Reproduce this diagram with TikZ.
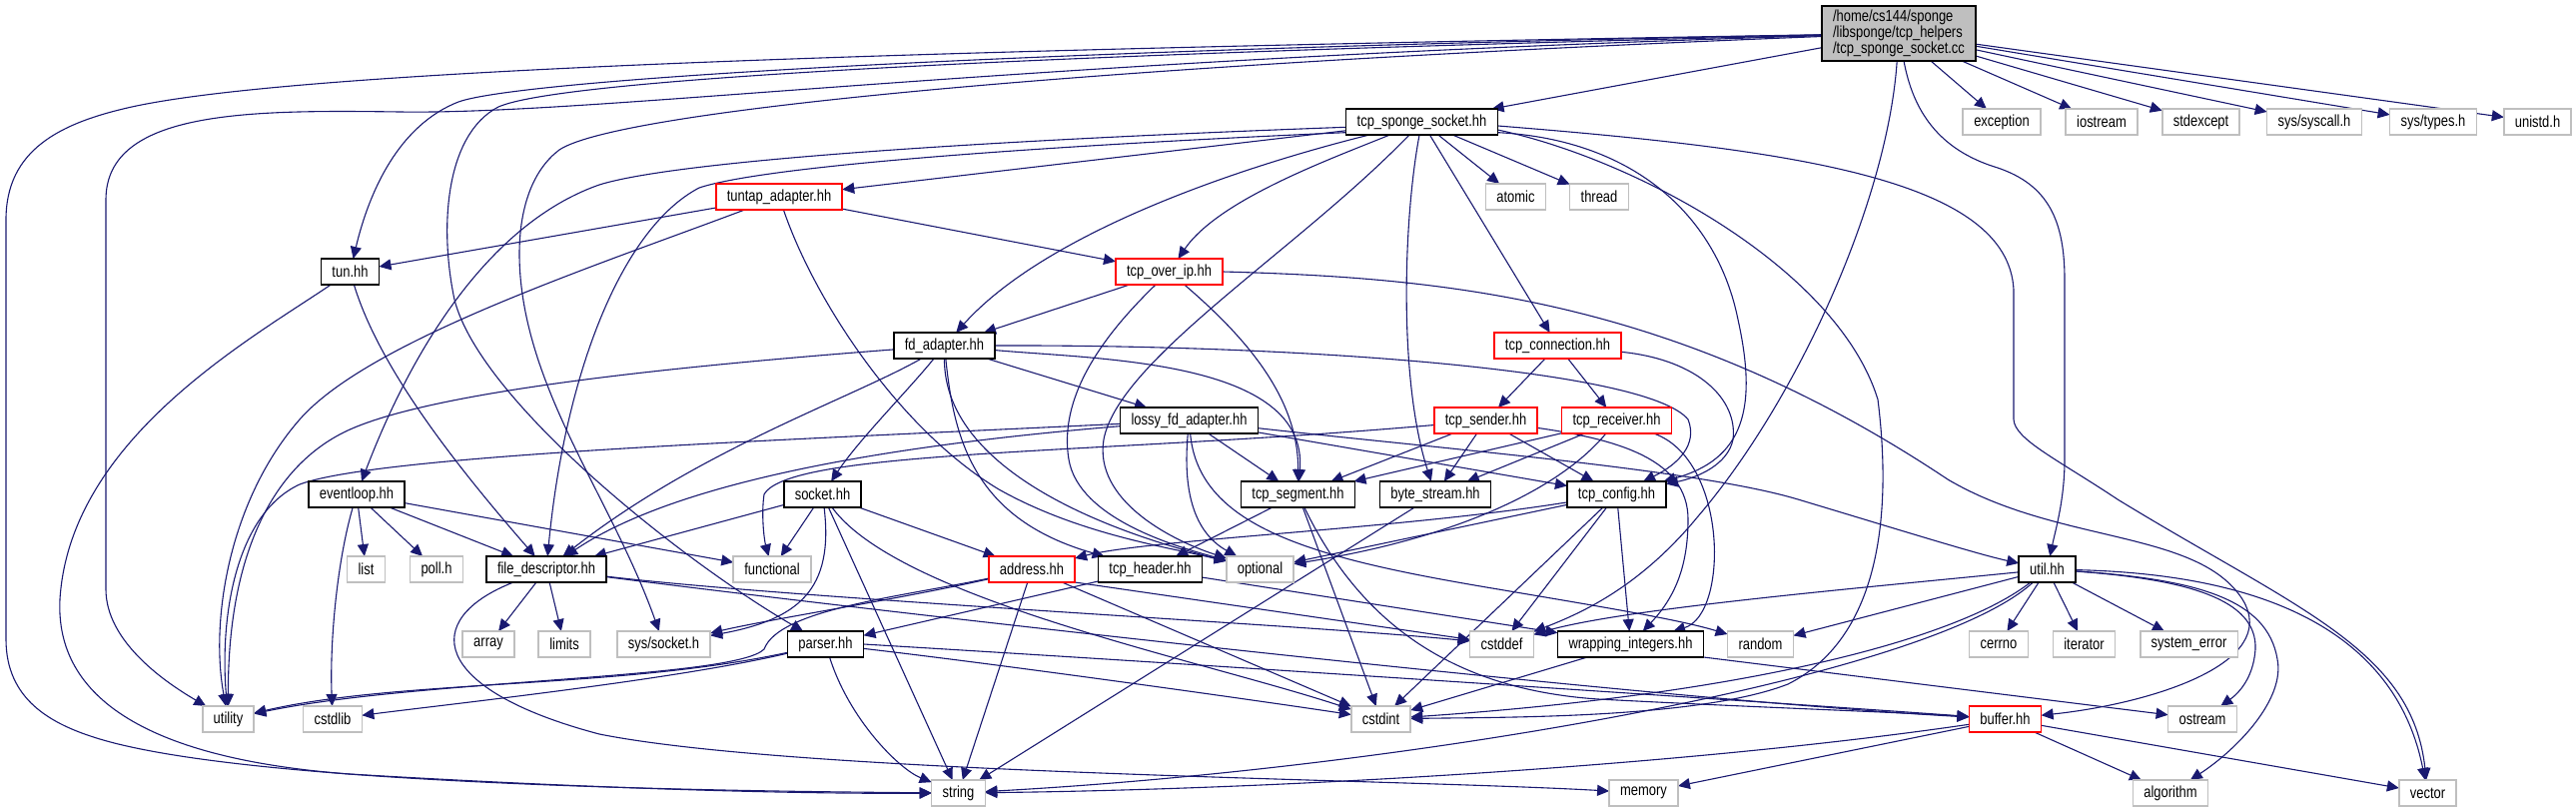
\documentclass[tikz,border=0pt]{standalone}
\usepackage{fontspec}
\newfontfamily\dotfont{Liberation Sans}[FakeStretch=0.81]
\usetikzlibrary{arrows.meta, backgrounds}

\definecolor{edgeblue}{HTML}{191970}
\definecolor{sysgrey}{HTML}{BFBFBF}

\begin{document}
\begin{tikzpicture}[
        x=1pt, y=-1pt,
        box/.style={rectangle, minimum height=26pt, inner xsep=11pt, inner ysep=0pt,
                    outer sep=0pt, line width=1.6pt, fill=white,
                    font=\dotfont\fontsize{16}{18}\selectfont},
        docnode/.style={box, draw=black},
        rednode/.style={box, draw=red},
        sysnode/.style={box, draw=sysgrey},
        rootnode/.style={box, draw=black, fill=sysgrey, align=left, minimum height=55pt,
                         font=\dotfont\fontsize{16}{14.2}\selectfont},
        dep/.style={->, draw=edgeblue, line width=1.1pt},
        >={Triangle[length=12pt, width=11pt]}
    ]
    \useasboundingbox (0,0) rectangle (2579,813);

    \node[rootnode] (root) at (1901,33.5)
        {/home/cs144/sponge\\/libsponge/tcp\_helpers\\/tcp\_sponge\_socket.cc};

    \node[docnode] (tss)        at (1423.5,122) {tcp\_sponge\_socket.hh};
    \node[sysnode] (exception)  at (2004,122)   {exception};
    \node[sysnode] (iostream)   at (2104,122)   {iostream};
    \node[sysnode] (stdexcept)  at (2203.5,122) {stdexcept};
    \node[sysnode] (syscall)    at (2317,122)   {sys/syscall.h};
    \node[sysnode] (systypes)   at (2436,122)   {sys/types.h};
    \node[sysnode] (unistd)     at (2540.5,122) {unistd.h};

    \node[rednode] (tuntap)     at (780,197)    {tuntap\_adapter.hh};
    \node[sysnode] (atomic)     at (1517.5,197) {atomic};
    \node[sysnode] (thread)     at (1601,197)   {thread};

    \node[docnode] (tun)        at (350.5,272)  {tun.hh};
    \node[rednode] (overip)     at (1170.5,272) {tcp\_over\_ip.hh};

    \node[docnode] (fdadapter)  at (945.5,346)  {fd\_adapter.hh};
    \node[rednode] (connection) at (1559.5,346) {tcp\_connection.hh};

    \node[docnode] (lossy)      at (1190.5,421) {lossy\_fd\_adapter.hh};
    \node[rednode] (sender)     at (1487.5,421) {tcp\_sender.hh};
    \node[rednode] (receiver)   at (1618.5,421) {tcp\_receiver.hh};

    \node[docnode] (eventloop)  at (357,495)    {eventloop.hh};
    \node[docnode] (socket)     at (823.5,495)  {socket.hh};
    \node[docnode] (segment)    at (1299.5,495) {tcp\_segment.hh};
    \node[docnode] (bytestream) at (1437,495)   {byte\_stream.hh};
    \node[docnode] (config)     at (1618.5,495) {tcp\_config.hh};

    \node[sysnode] (list)       at (366.5,570)  {list};
    \node[sysnode] (poll)       at (437,570)    {poll.h};
    \node[docnode] (fdesc)      at (547,570)    {file\_descriptor.hh};
    \node[sysnode] (functional) at (773,570)    {functional};
    \node[rednode] (address)    at (1033,570)   {address.hh};
    \node[docnode] (header)     at (1151.5,570) {tcp\_header.hh};
    \node[sysnode] (optional)   at (1261.5,570) {optional};
    \node[docnode] (util)       at (2049.5,570) {util.hh};

    \node[sysnode] (array)      at (489,645)    {array};
    \node[sysnode] (limits)     at (565,645)    {limits};
    \node[sysnode] (syssocket)  at (664.5,645)  {sys/socket.h};
    \node[docnode] (parser)     at (826.5,645)  {parser.hh};
    \node[sysnode] (cstddef)    at (1503.5,645) {cstddef};
    \node[docnode] (wrapping)   at (1632.5,645) {wrapping\_integers.hh};
    \node[sysnode] (random)     at (1762.5,645) {random};
    \node[sysnode] (cerrno)     at (2001,645)   {cerrno};
    \node[sysnode] (iterator)   at (2086.5,645) {iterator};
    \node[sysnode] (syserror)   at (2191.5,645) {system\_error};

    \node[sysnode] (utility)    at (228.5,720)  {utility};
    \node[sysnode] (cstdlib)    at (333,720)    {cstdlib};
    \node[sysnode] (cstdint)    at (1382.5,720) {cstdint};
    \node[rednode] (buffer)     at (2007.5,720) {buffer.hh};
    \node[sysnode] (ostream)    at (2205,720)   {ostream};

    \node[sysnode] (string)     at (959.5,794)  {string};
    \node[sysnode] (memory)     at (1645.5,794) {memory};
    \node[sysnode] (algorithm)  at (2173,794)   {algorithm};
    \node[sysnode] (vector)     at (2430.5,794) {vector};

    \begin{scope}[on background layer]
    % tcp_sponge_socket.cc
    \draw[dep] (root) -- (tss);
    \draw[dep] (root) -- (exception);
    \draw[dep] (root) -- (iostream);
    \draw[dep] (root) -- (stdexcept);
    \draw[dep] (root) -- (syscall);
    \draw[dep] (root) -- (systypes);
    \draw[dep] (root) -- (unistd);
    \draw[dep] (root) .. controls (1915,110) and (1940,150) .. (2000,168)
        .. controls (2050,185) and (2067,220) .. (2067,280) -- (2067,460)
        .. controls (2067,500) and (2058,530) .. (util);
    \draw[dep] (root) .. controls (1890,200) and (1800,400) .. (1700,517)
        .. controls (1640,590) and (1580,615) .. (cstddef);
    \draw[dep] (root) .. controls (1000,50) and (520,80) .. (459,102)
        .. controls (400,125) and (370,190) .. (tun);
    \draw[dep] (root) .. controls (1000,55) and (560,80) .. (499,107)
        .. controls (445,135) and (440,230) .. (455,300)
        .. controls (480,400) and (680,560) .. (parser);
    \draw[dep] (root) .. controls (1100,65) and (620,110) .. (560,150)
        .. controls (520,180) and (510,250) .. (530,330)
        .. controls (555,430) and (620,520) .. (syssocket);
    \draw[dep] (root) .. controls (900,50) and (300,70) .. (132,107)
        .. controls (60,123) and (6,150) .. (6,220) -- (6,640)
        .. controls (6,700) and (50,725) .. (100,740)
        .. controls (250,785) and (700,792) .. (string);
    \draw[dep] (root) .. controls (1000,60) and (600,115) .. (400,112)
        .. controls (250,110) and (106,110) .. (106,200) -- (106,590)
        .. controls (106,640) and (160,680) .. (utility);

    % tcp_sponge_socket.hh
    \draw[dep] (tss) -- (tuntap);
    \draw[dep] (tss) .. controls (1330,160) and (1220,200) .. (overip);
    \draw[dep] (tss) .. controls (1250,165) and (1050,230) .. (fdadapter);
    \draw[dep] (tss) .. controls (1300,250) and (1120,360) .. (1105,440)
        .. controls (1095,500) and (1170,540) .. (optional);
    \draw[dep] (tss) .. controls (1405,220) and (1400,380) .. (bytestream);
    \draw[dep] (tss) -- (connection);
    \draw[dep] (tss) -- (atomic);
    \draw[dep] (tss) -- (thread);
    \draw[dep] (tss.-3) .. controls (1800,150) and (2010,180) .. (2016,290) -- (2016,420)
        .. controls (2017,440) and (2060,460) .. (2120,500)
        .. controls (2300,610) and (2415,650) .. (vector);
    \draw[dep] (tss.-6) .. controls (1640,160) and (1840,270) .. (1880,400)
        .. controls (1895,520) and (1880,640) .. (1790,685)
        .. controls (1700,720) and (1500,718) .. (cstdint);
    \draw[dep] (tss.-8) .. controls (1640,140) and (1720,220) .. (1740,320)
        .. controls (1760,410) and (1745,460) .. (config);
    \draw[dep] (tss.184) .. controls (1000,140) and (680,160) .. (600,185)
        .. controls (500,220) and (420,330) .. (eventloop);
    \draw[dep] (tss.188) .. controls (1000,148) and (760,168) .. (700,188)
        .. controls (620,230) and (565,380) .. (fdesc);

    % tuntap_adapter.hh, tun.hh, tcp_over_ip.hh
    \draw[dep] (tuntap) -- (tun);
    \draw[dep] (tuntap) -- (overip);
    \draw[dep] (tuntap) .. controls (600,265) and (370,340) .. (300,420)
        .. controls (230,500) and (210,620) .. (utility);
    \draw[dep] (tuntap) .. controls (815,300) and (900,430) .. (1000,490)
        .. controls (1080,535) and (1170,548) .. (optional);
    \draw[dep] (tun) .. controls (380,370) and (460,470) .. (fdesc);
    \draw[dep] (tun) .. controls (250,340) and (70,440) .. (60,600)
        .. controls (55,700) and (150,760) .. (350,775)
        .. controls (600,790) and (800,795) .. (string);
    \draw[dep] (overip) -- (fdadapter);
    \draw[dep] (overip) .. controls (1100,340) and (1060,400) .. (1070,460)
        .. controls (1080,520) and (1180,548) .. (optional);
    \draw[dep] (overip) .. controls (1250,340) and (1300,400) .. (segment);
    \draw[dep] (overip.east) .. controls (1450,278) and (1680,300) .. (1950,480)
        .. controls (2060,545) and (2200,530) .. (2245,600)
        .. controls (2285,665) and (2150,705) .. (buffer);

    % fd_adapter.hh, lossy_fd_adapter.hh
    \draw[dep] (fdadapter) .. controls (700,365) and (430,390) .. (344,433)
        .. controls (270,470) and (228,560) .. (utility);
    \draw[dep] (fdadapter) .. controls (850,400) and (700,450) .. (fdesc);
    \draw[dep] (fdadapter) .. controls (910,390) and (860,440) .. (socket);
    \draw[dep] (fdadapter) .. controls (955,440) and (975,520) .. (header);
    \draw[dep] (fdadapter) .. controls (945,460) and (1080,525) .. (optional);
    \draw[dep] (fdadapter) -- (lossy);
    \draw[dep] (fdadapter.east) .. controls (1300,345) and (1650,370) .. (1690,420)
        .. controls (1700,445) and (1680,465) .. (config);
    \draw[dep] (fdadapter) .. controls (1100,360) and (1310,360) .. (segment);
    \draw[dep] (lossy) .. controls (800,440) and (380,455) .. (300,485)
        .. controls (235,515) and (220,620) .. (utility);
    \draw[dep] (lossy) .. controls (900,445) and (680,480) .. (fdesc);
    \draw[dep] (lossy) .. controls (1185,480) and (1190,530) .. (optional);
    \draw[dep] (lossy) .. controls (1200,530) and (1320,560) .. (1500,590)
        .. controls (1600,607) and (1680,620) .. (random);
    \draw[dep] (lossy) -- (segment);
    \draw[dep] (lossy) -- (config);
    \draw[dep] (lossy) .. controls (1450,450) and (1700,470) .. (1800,500)
        .. controls (1900,530) and (1980,555) .. (util);

    % tcp_connection.hh, tcp_sender.hh, tcp_receiver.hh
    \draw[dep] (connection) -- (sender);
    \draw[dep] (connection) -- (receiver);
    \draw[dep] (connection) .. controls (1700,360) and (1740,400) .. (1735,440)
        .. controls (1730,465) and (1700,478) .. (config);
    \draw[dep] (sender) .. controls (1100,455) and (790,450) .. (765,495)
        .. controls (762,515) and (765,540) .. (functional);
    \draw[dep] (sender) -- (segment);
    \draw[dep] (sender) -- (bytestream);
    \draw[dep] (sender) -- (config);
    \draw[dep] (sender) .. controls (1620,440) and (1690,460) .. (1690,520)
        .. controls (1690,570) and (1675,600) .. (wrapping);
    \draw[dep] (receiver) -- (segment);
    \draw[dep] (receiver) -- (bytestream);
    \draw[dep] (receiver) .. controls (1570,480) and (1480,535) .. (optional);
    \draw[dep] (receiver) .. controls (1730,460) and (1731,615) .. (wrapping);

    % tcp_segment.hh, byte_stream.hh, tcp_config.hh
    \draw[dep] (segment) -- (header);
    \draw[dep] (segment) -- (cstdint);
    \draw[dep] (segment) .. controls (1360,620) and (1450,690) .. (1600,700)
        .. controls (1750,708) and (1900,713) .. (buffer);
    \draw[dep] (bytestream) -- (string);
    \draw[dep] (config) .. controls (1400,530) and (1150,540) .. (address);
    \draw[dep] (config) -- (optional);
    \draw[dep] (config) -- (cstdint);
    \draw[dep] (config) -- (cstddef);
    \draw[dep] (config) -- (wrapping);

    % eventloop.hh, socket.hh, file_descriptor.hh
    \draw[dep] (eventloop) .. controls (338,560) and (330,640) .. (cstdlib);
    \draw[dep] (eventloop) -- (list);
    \draw[dep] (eventloop) -- (poll);
    \draw[dep] (eventloop) -- (fdesc);
    \draw[dep] (eventloop) -- (functional);
    \draw[dep] (socket) -- (fdesc);
    \draw[dep] (socket) -- (functional);
    \draw[dep] (socket) .. controls (835,590) and (800,620) .. (syssocket);
    \draw[dep] (socket) -- (string);
    \draw[dep] (socket) .. controls (900,600) and (1200,660) .. (cstdint);
    \draw[dep] (socket) -- (address);
    \draw[dep] (fdesc) -- (array);
    \draw[dep] (fdesc) -- (limits);
    \draw[dep] (fdesc) .. controls (420,620) and (430,690) .. (600,735)
        .. controls (800,775) and (1400,780) .. (memory);
    \draw[dep] (fdesc) .. controls (800,600) and (1300,625) .. (cstddef);
    \draw[dep] (fdesc) .. controls (900,615) and (1650,700) .. (buffer);

    % address.hh, tcp_header.hh, parser.hh, wrapping_integers.hh
    \draw[dep] (address) .. controls (900,600) and (770,620) .. (syssocket);
    \draw[dep] (address) .. controls (900,598) and (780,610) .. (765,650)
        .. controls (735,680) and (420,680) .. (utility);
    \draw[dep] (address) -- (string);
    \draw[dep] (address) -- (cstdint);
    \draw[dep] (address.south east) -- (cstddef);
    \draw[dep] (header) -- (parser);
    \draw[dep] (header) -- (wrapping);
    \draw[dep] (parser) .. controls (620,690) and (400,680) .. (utility);
    \draw[dep] (parser) .. controls (680,680) and (450,705) .. (cstdlib);
    \draw[dep] (parser) .. controls (850,720) and (900,770) .. (string);
    \draw[dep] (parser.east) .. controls (1200,665) and (1800,705) .. (buffer);
    \draw[dep] (parser) .. controls (1000,665) and (1250,700) .. (cstdint);
    \draw[dep] (wrapping) -- (cstdint);
    \draw[dep] (wrapping.south east) -- (ostream);

    % util.hh, buffer.hh
    \draw[dep] (util) .. controls (1850,590) and (1620,610) .. (cstddef);
    \draw[dep] (util) -- (random);
    \draw[dep] (util) .. controls (1960,640) and (1750,695) .. (cstdint);
    \draw[dep] (util) .. controls (1930,680) and (1400,770) .. (string);
    \draw[dep] (util) -- (cerrno);
    \draw[dep] (util) -- (iterator);
    \draw[dep] (util) -- (syserror);
    \draw[dep] (util) .. controls (2190,580) and (2260,600) .. (2258,650)
        .. controls (2256,680) and (2240,695) .. (ostream);
    \draw[dep] (util) .. controls (2200,580) and (2270,600) .. (2280,660)
        .. controls (2288,700) and (2240,750) .. (algorithm);
    \draw[dep] (util) .. controls (2280,575) and (2400,640) .. (vector);
    \draw[dep] (buffer) .. controls (1700,765) and (1300,790) .. (string);
    \draw[dep] (buffer) -- (memory);
    \draw[dep] (buffer) -- (algorithm);
    \draw[dep] (buffer) -- (vector);
    \end{scope}
\end{tikzpicture}
\end{document}
